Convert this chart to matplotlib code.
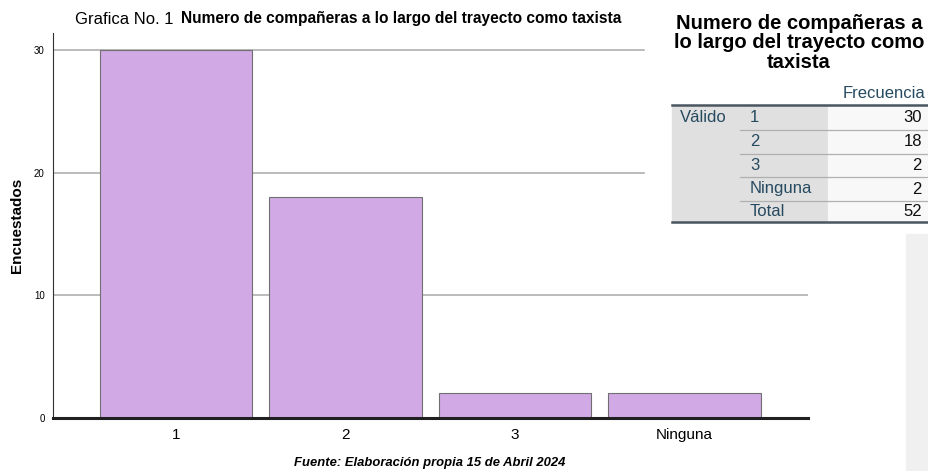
import numpy as np
import matplotlib
matplotlib.use("Agg")
from matplotlib import pyplot as plt
from matplotlib.patches import Rectangle

plt.rcParams['font.family'] = ['Liberation Sans', 'DejaVu Sans']

# data
categories = ["1", "2", "3", "Ninguna"]
counts = [30, 18, 2, 2]
yticks = [0, 10, 20, 30]
table_labels = ["1", "2", "3", "Ninguna", "Total"]
table_values = counts + [sum(counts)]

W, H = 929, 471
fig = plt.figure(figsize=(W / 100, H / 100), dpi=100)

# main chart, placed in pixel terms
ax = fig.add_axes([53 / W, 1 - 418 / H, (808 - 53) / W, (418 - 33) / H])
x = np.arange(len(categories))
ax.bar(x, counts, width=0.9, color="#d1aae5", edgecolor="#707070", linewidth=0.8, zorder=3)
ax.set_xlim(-0.726, 3.73)
ax.set_ylim(0, 31.4)
ax.set_yticks(yticks)
ax.set_yticklabels([str(t) for t in yticks], fontsize=7)
ax.set_xticks(x)
ax.set_xticklabels(categories, fontsize=11)
ax.tick_params(axis="x", length=0, pad=7)
ax.tick_params(axis="y", length=0, pad=6)
for t in yticks[1:]:
    ax.axhline(t, color="#a8a8a8", linewidth=1.1, zorder=1)
ax.axhline(0, color="#202020", linewidth=2.2, zorder=4, clip_on=False)
for s in ["top", "right", "bottom"]:
    ax.spines[s].set_visible(False)
ax.spines["left"].set_color("#303030")
ax.spines["left"].set_linewidth(0.8)
ax.set_ylabel("Encuestados", fontsize=11, fontweight="bold", labelpad=7)

# overlay for texts and the table, in pixel coordinates, on top of the chart
ov = fig.add_axes([0, 0, 1, 1], zorder=5)
ov.set_xlim(0, W)
ov.set_ylim(H, 0)
ov.axis("off")

ov.text(75, 19, "Grafica No. 1", fontsize=12, va="center", ha="left")
ov.text(181, 19, "Numero de compañeras a lo largo del trayecto como taxista",
        fontsize=11.2, fontweight="bold", va="center", ha="left")
ov.text(430, 463, "Fuente: Elaboración propia 15 de Abril 2024", fontsize=9.4,
        fontweight="bold", style="italic", ha="center", va="center")

# frequency table pasted over the chart's top right corner
ov.add_patch(Rectangle((645, 0), W - 645, 230, color="white", zorder=0))
ov.text(799, 43, "Numero de compañeras a\nlo largo del trayecto como\ntaxista",
        fontsize=14.5, fontweight="bold", ha="center", va="center", linespacing=1.05)
blue = "#264a60"
ov.text(925, 94, "Frecuencia", fontsize=12, color=blue, ha="right", va="center")
ov.add_patch(Rectangle((672, 106), 156, 116, color="#e0e0e0", zorder=1))
ov.add_patch(Rectangle((828, 106), 100, 116, color="#f8f8f8", zorder=1))
row_y = [118, 142, 165, 189, 212]
ov.text(680, row_y[0], "Válido", fontsize=12, color=blue, ha="left", va="center")
for i, (lab, val) in enumerate(zip(table_labels, table_values)):
    ov.text(750, row_y[i], lab, fontsize=12, color=blue, ha="left", va="center")
    ov.text(922, row_y[i], str(val), fontsize=12, color="#101010", ha="right", va="center")
    if i < len(table_labels) - 1:
        ov.plot([740, 928], [row_y[i] + 11.7] * 2, color="#b0b0b0", linewidth=0.9, zorder=2)
ov.plot([672, 928], [105, 105], color="#4a5560", linewidth=1.8, zorder=2)
ov.plot([672, 928], [222, 222], color="#4a5560", linewidth=1.8, zorder=2)

# grey side panel
ov.add_patch(Rectangle((906, 234), 23, 237, color="#f0f0f0", zorder=0))

fig.savefig("out.png", dpi=100)
